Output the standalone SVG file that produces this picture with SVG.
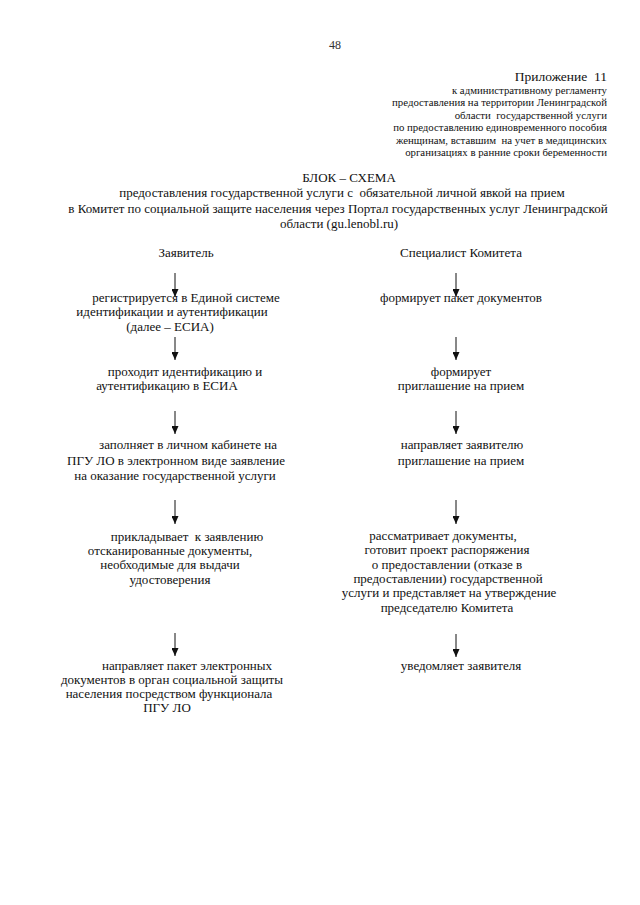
<svg xmlns="http://www.w3.org/2000/svg" width="640" height="905" viewBox="0 0 640 905">
<style>
text{font-family:"Liberation Serif","Times New Roman",serif;fill:#111;white-space:pre;}
.t{font-size:13px;text-anchor:middle;}
.h{font-size:10.8px;text-anchor:end;}
.a{stroke:#111;stroke-width:1;fill:none;marker-end:url(#ah);}
</style>
<defs>
<marker id="ah" viewBox="0 0 8 7" refX="8" refY="3.5" markerWidth="8" markerHeight="7" markerUnits="userSpaceOnUse" orient="auto">
<path d="M0,0 L8,3.5 L0,7 z" fill="#111"/>
</marker>
</defs>
<rect width="640" height="905" fill="#fff"/>
<g id="page-number"><text x="335" y="49" style="font-size:12px;text-anchor:middle;fill:#333">48</text></g>
<g id="header">
<text x="607" y="81" style="font-size:13.5px;text-anchor:end">Приложение  11</text>
<text class="h" x="607" y="94">к административному регламенту</text>
<text class="h" x="607" y="106">предоставления на территории Ленинградской</text>
<text class="h" x="607" y="119">области  государственной услуги</text>
<text class="h" x="607" y="131">по предоставлению единовременного пособия</text>
<text class="h" x="607" y="144">женщинам, вставшим  на учет в медицинских</text>
<text class="h" x="607" y="156">организациях в ранние сроки беременности</text>
</g>
<g id="title">
<text class="t" x="349" y="182">БЛОК – СХЕМА</text>
<text class="t" x="342" y="197">предоставления государственной услуги с  обязательной личной явкой на прием</text>
<text class="t" x="338" y="213">в Комитет по социальной защите населения через Портал государственных услуг Ленинградской</text>
<text class="t" x="339" y="228">области (gu.lenobl.ru)</text>
</g>
<g id="applicant"><text class="t" x="186" y="257">Заявитель</text></g>
<g id="specialist"><text class="t" x="461" y="257">Специалист Комитета</text></g>
<g id="a1">
<text class="t" x="186" y="302">регистрируется в Единой системе</text>
<text class="t" x="172" y="316">идентификации и аутентификации</text>
<text class="t" x="170" y="331">(далее – ЕСИА)</text>
</g>
<g id="a2">
<text class="t" x="185" y="376">проходит идентификацию и</text>
<text class="t" x="167" y="390">аутентификацию в ЕСИА</text>
</g>
<g id="a3">
<text class="t" x="188" y="449">заполняет в личном кабинете на</text>
<text class="t" x="176" y="465">ПГУ ЛО в электронном виде заявление</text>
<text class="t" x="175" y="480">на оказание государственной услуги</text>
</g>
<g id="a4">
<text class="t" x="187" y="541">прикладывает  к заявлению</text>
<text class="t" x="170" y="555">отсканированные документы,</text>
<text class="t" x="170" y="569">необходимые для выдачи</text>
<text class="t" x="170" y="584">удостоверения</text>
</g>
<g id="a5">
<text class="t" x="187" y="670">направляет пакет электронных</text>
<text class="t" x="172" y="684">документов в орган социальной защиты</text>
<text class="t" x="169" y="698">населения посредством функционала</text>
<text class="t" x="167" y="712">ПГУ ЛО</text>
</g>
<g id="s1"><text class="t" x="461" y="302">формирует пакет документов</text></g>
<g id="s2">
<text class="t" x="461" y="376">формирует</text>
<text class="t" x="461" y="390">приглашение на прием</text>
</g>
<g id="s3">
<text class="t" x="462" y="449">направляет заявителю</text>
<text class="t" x="461" y="465">приглашение на прием</text>
</g>
<g id="s4">
<text class="t" x="443" y="540">рассматривает документы,</text>
<text class="t" x="447" y="554">готовит проект распоряжения</text>
<text class="t" x="447" y="569">о предоставлении (отказе в</text>
<text class="t" x="448" y="583">предоставлении) государственной</text>
<text class="t" x="449" y="597">услуги и представляет на утверждение</text>
<text class="t" x="447" y="612">председателю Комитета</text>
</g>
<g id="s5"><text class="t" x="461" y="670">уведомляет заявителя</text></g>
<g id="connectors">
<line class="a" x1="175" y1="273" x2="175" y2="297"/>
<line class="a" x1="175" y1="337" x2="175" y2="360"/>
<line class="a" x1="175" y1="411" x2="175" y2="434"/>
<line class="a" x1="175" y1="500" x2="175" y2="524"/>
<line class="a" x1="175" y1="633" x2="175" y2="656"/>
<line class="a" x1="456" y1="273" x2="456" y2="297"/>
<line class="a" x1="456" y1="337" x2="456" y2="360"/>
<line class="a" x1="456" y1="411" x2="456" y2="434"/>
<line class="a" x1="456" y1="500" x2="456" y2="524"/>
<line class="a" x1="456" y1="634" x2="456" y2="657"/>
</g>
</svg>
